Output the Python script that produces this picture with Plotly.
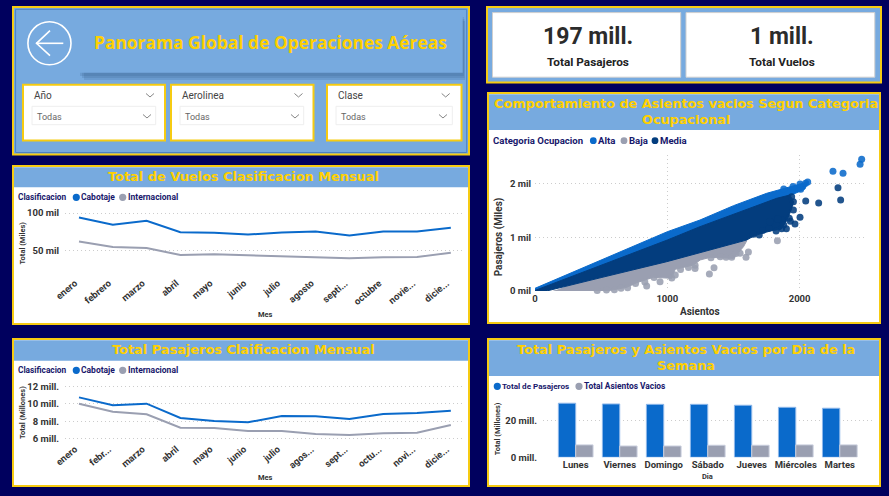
import plotly.graph_objects as go

W, H = 889, 496

# ---------- data ----------
months = ["enero","febrero","marzo","abril","mayo","junio","julio","agosto","septiembre","octubre","noviembre","diciembre"]
labels_vuelos = ["enero","febrero","marzo","abril","mayo","junio","julio","agosto","septi...","octubre","novie...","dicie..."]
labels_pasaj = ["enero","febr...","marzo","abril","mayo","junio","julio","agos...","sept...","octu...","novi...","dicie..."]
vuelos_cab = [94.2,84.5,89.8,74.8,73.9,71.7,74.3,75.7,70.4,75.7,75.7,80.6]
vuelos_int = [62.4,55.3,54.0,44.7,45.6,44.2,42.9,42.0,40.3,41.6,42.0,47.8]
pasaj_cab = [10.75,9.84,10.03,8.39,8.05,7.90,8.62,8.58,8.28,8.85,8.96,9.23]
pasaj_int = [10.03,9.11,8.81,7.29,7.25,6.91,6.91,6.57,6.46,6.65,6.72,7.59]
dias = ["Lunes","Viernes","Domingo","Sábado","Jueves","Miércoles","Martes"]
total_pasajeros = [29.2,28.8,28.6,28.6,28.1,27.0,26.5]
asientos_vacios = [6.7,6.1,6.1,6.5,6.5,6.7,6.7]

# dense clouds of the scatter, read as outlines (asientos, pasajeros)
alta_x = [0,500,1000,1247,1500,1751,1900,2066,2040,1930,1627,1247,500,0]
alta_y = [50,580,1105,1323,1590,1821,1930,2037,1900,1780,1540,1180,470,0]
media_x = [0,500,1000,1247,1625,1827,1927,1955,1935,1900,1860,1800,1720,1650,1600,1285,995,500,88,0]
media_y = [10,479,950,1199,1547,1728,1789,1660,1500,1300,1150,1130,1080,1020,950,733,546,250,0,0]
baja_x = [139,542,694,769,895,1034,1059,1198,1248,1324,1501,1576,1601,1300,800,300]
baja_y = [0,0,68,155,255,236,404,484,578,627,609,826,938,800,500,150]
# single visible flights of the scatter
alta_px = [2469,2457,2252,2328,2061,2045,2008,2003,1950,1880]
alta_py = [2454,2361,2231,2193,2032,2010,1896,1994,1950,1900]
media_px = [2046,2144,2310,2290,2003,1965,1864,1822,1769,1695,1922,1953,1953,1940,1864,1776,1900,1930,1720,1650,1835,1880]
media_py = [1677,1640,1696,1926,1373,1249,1161,1118,1174,1044,1355,1510,1665,1758,1323,1292,1160,1300,1130,1060,1340,1230]
baja_px = [1832,1595,1613,1318,1353,844,1550,1444,1487,945,1034,1060,1210,1330,1210,700,760,540,470,600,650,830,900,1100,1160,1400,1520]
baja_py = [938,628,727,317,434,93,703,628,628,173,240,300,480,620,420,60,140,20,10,25,50,170,250,400,440,640,700]

ALTA, BAJA, MEDIA = "#0a6acb", "#9a9fb1", "#033d7e"
YEL, TITLE, PANEL, BG = "#f6cb12", "#ffd000", "#77aadf", "#00005e"
NAVY = "#17176b"

def px(x): return x / W
def py(y): return 1 - y / H

shapes, anns = [], []

def rect(x0, y0, x1, y1, fill=None, line=None, lw=0, op=1):
    shapes.append(dict(type="rect", xref="paper", yref="paper", x0=px(x0), x1=px(x1), y0=py(y0), y1=py(y1),
                       fillcolor=fill or "rgba(0,0,0,0)", line=dict(color=line or "rgba(0,0,0,0)", width=lw),
                       opacity=op, layer="below"))

def seg(pts, color, lw):
    path = "M " + " L ".join(f"{px(a):.5f},{py(b):.5f}" for a, b in pts)
    shapes.append(dict(type="path", xref="paper", yref="paper", path=path, line=dict(color=color, width=lw), layer="below"))

def dot(x, y, r, color):
    shapes.append(dict(type="circle", xref="paper", yref="paper", x0=px(x-r), x1=px(x+r), y0=py(y+r), y1=py(y-r),
                       fillcolor=color, line=dict(width=0), layer="below"))

def text(x, y, s, size, color="#222222", fam="Roboto", xa="center", angle=0, bold=False):
    if xa == "left":
        x -= 2
    anns.append(dict(xref="paper", yref="paper", x=px(x), y=py(y), text=f"<b>{s}</b>" if bold else s,
                     showarrow=False, xanchor=xa, yanchor="middle", textangle=angle,
                     font=dict(size=size, color=color, family=fam)))

# ---------- panels ----------
def panel(x0, y0, x1, y1, fill="#ffffff"):
    rect(x0, y0, x1, y1, fill=fill, line=YEL, lw=2)

# top-left panel
panel(13, 7, 469, 154.5, PANEL)
rect(15.6, 9.3, 466.7, 152.5, line="#4d80c4", lw=1)
for k, o in enumerate([7, 5, 3]):
    rect(77+o, 14+o, 463+o*0.3, 73+o, fill="#2c4f7e", op=0.16)
rect(77, 12, 462.7, 72.7, fill=PANEL)
text(270, 41.7, "Panorama Global de Operaciones Aéreas", 17.4, TITLE, "Open Sans", bold=True)
shapes.append(dict(type="circle", xref="paper", yref="paper", x0=px(27.9), x1=px(71), y0=py(64.8), y1=py(21.8),
                   line=dict(color="#ffffff", width=1.6), layer="below"))
seg([(63.3, 43.3), (36, 43.3)], "#ffffff", 1.6)
seg([(50, 30.7), (36.5, 43.3), (50, 55.7)], "#ffffff", 1.6)

def slicer(x0, x1, name, tx, bx0, bx1, c1, c2):
    panel(x0, 84.8, x1, 140.6)
    text(tx, 95.7, name, 10, "#444444", xa="left")
    seg([(c1-4, 93.5), (c1, 97), (c1+4, 93.5)], "#777777", 0.9)
    rect(bx0, 106.3, bx1, 124.7, line="#eeeeee", lw=1)
    text(bx0+4.5, 116.7, "Todas", 9, "#666666", xa="left")
    seg([(c2-4, 114.5), (c2, 118), (c2+4, 114.5)], "#777777", 0.9)

slicer(23, 165, "Año", 34, 32, 155.7, 150, 147)
slicer(171, 313.5, "Aerolinea", 182, 180, 303.7, 298.5, 295)
slicer(327, 461.5, "Clase", 338, 336, 452.3, 445.7, 443)

# KPI panel
panel(487, 7, 881, 82.5, PANEL)
for a, b, big, small, c in [(492.5, 680.7, "197 mill.", "Total Pasajeros", 587.7), (686, 874.8, "1 mill.", "Total Vuelos", 781.7)]:
    rect(a, 12.6, b, 77.2, fill="#ffffff", line="#cfcfcf", lw=1)
    text(c, 36, big, 23, "#2b2b2b", bold=True)
    text(c, 62, small, 11.8, "#222222", bold=True)

# chart panels
panel(13, 166, 469, 324, "#ffffff")
rect(14, 167.2, 468, 187.3, fill=PANEL)
text(243, 176.5, "Total de Vuelos Clasificacion Mensual", 12.9, TITLE, "DejaVu Sans", bold=True)
panel(13, 339, 469, 486, "#ffffff")
rect(14, 340.2, 468, 360.7, fill=PANEL)
text(243, 349.8, "Total Pasajeros Claificacion Mensual", 12.9, TITLE, "DejaVu Sans", bold=True)
panel(488, 93, 880, 323, "#ffffff")
rect(489, 94.2, 879, 130, fill=PANEL)
text(685.7, 103.5, "Comportamiento de Asientos vacios Segun Categoria", 12.8, TITLE, "DejaVu Sans", bold=True)
text(685.7, 119.5, "Ocupacional", 12.8, TITLE, "DejaVu Sans", bold=True)
panel(488, 339, 880, 486, "#ffffff")
rect(489, 340.2, 879, 376, fill=PANEL)
text(686, 349.8, "Total Pasajeros y Asientos Vacios por Dia de la", 12.9, TITLE, "DejaVu Sans", bold=True)
text(686, 365.5, "Semana", 12.9, TITLE, "DejaVu Sans", bold=True)

# legends
for y in (197.3, 370.3):
    text(18, y, "Clasificacion", 8.3, NAVY, xa="left", bold=True)
    dot(76.3, y, 3.6, ALTA); text(81, y, "Cabotaje", 8.5, NAVY, xa="left", bold=True)
    dot(122.7, y, 3.6, BAJA); text(127.7, y, "Internacional", 8.5, NAVY, xa="left", bold=True)
text(493.3, 140.7, "Categoria Ocupacion", 9.6, NAVY, xa="left", bold=True)
dot(593.3, 140.7, 3.4, ALTA); text(598.3, 140.7, "Alta", 9.6, NAVY, xa="left", bold=True)
dot(624, 140.7, 3.4, BAJA); text(629, 140.7, "Baja", 9.6, NAVY, xa="left", bold=True)
dot(655, 140.7, 3.4, MEDIA); text(660, 140.7, "Media", 9.6, NAVY, xa="left", bold=True)
dot(497.3, 386.3, 3.6, ALTA); text(502.3, 386.3, "Total de Pasajeros", 8.1, NAVY, xa="left", bold=True)
dot(579, 386.3, 3.6, BAJA); text(584.3, 386.3, "Total Asientos Vacios", 8.4, NAVY, xa="left", bold=True)

# axis titles
AX = "#333333"
text(265, 314.3, "Mes", 7.5, AX, bold=True)
text(22.7, 242.7, "Total (Miles)", 7.5, AX, angle=-90, bold=True)
text(265, 477.3, "Mes", 7.5, AX, bold=True)
text(22.7, 412.3, "Total (Millones)", 7.5, AX, angle=-90, bold=True)
text(700, 311.7, "Asientos", 10, AX, bold=True)
text(499, 237.3, "Pasajeros (Miles)", 10, AX, angle=-90, bold=True)
text(707.7, 476.7, "Dia", 7.5, AX, bold=True)
text(497.3, 429, "Total (Millones)", 7.5, AX, angle=-90, bold=True)

# ---------- figure ----------
fig = go.Figure()
TICK = dict(family="Roboto", size=9.5, color="#333333", weight="bold")
GRID = dict(showgrid=True, gridcolor="#cccccc", griddash="1px 3px", gridwidth=1, zeroline=False, showline=False, ticks="", automargin=False)

def line(x, y, color, ax):
    fig.add_trace(go.Scatter(x=x, y=y, mode="lines", line=dict(color=color, width=2), showlegend=False,
                             xaxis=f"x{ax}", yaxis=f"y{ax}", cliponaxis=False))

line(months, vuelos_cab, ALTA, 1); line(months, vuelos_int, BAJA, 1)
line(months, pasaj_cab, ALTA, 2); line(months, pasaj_int, BAJA, 2)

def cloud(x, y, color):
    fig.add_trace(go.Scatter(x=x, y=y, mode="lines", fill="toself", fillcolor=color, line=dict(color=color, width=1),
                             showlegend=False, xaxis="x3", yaxis="y3", cliponaxis=False))

def spots(x, y, color, op=0.88):
    fig.add_trace(go.Scatter(x=x, y=y, mode="markers", marker=dict(color=color, size=7, opacity=op, line=dict(width=0)),
                             showlegend=False, xaxis="x3", yaxis="y3", cliponaxis=False))

cloud(alta_x, alta_y, ALTA); spots(alta_px, alta_py, "#0a6acb")
cloud(baja_x, baja_y, BAJA); spots(baja_px, baja_py, BAJA)
cloud(media_x, media_y, MEDIA); spots(media_px, media_py, MEDIA)

barline = dict(color="#8fb8ea", width=1)
fig.add_trace(go.Bar(x=dias, y=total_pasajeros, marker=dict(color=ALTA, line=barline), showlegend=False, xaxis="x4", yaxis="y4"))
fig.add_trace(go.Bar(x=dias, y=asientos_vacios, marker=dict(color=BAJA, line=dict(color="#c9cedd", width=1)), showlegend=False, xaxis="x4", yaxis="y4"))

def dom_x(a, b): return [a / W, b / W]
def dom_y(top, bot): return [1 - bot / H, 1 - top / H]

fig.update_layout(
    width=W, height=H, autosize=False, margin=dict(l=0, r=0, t=0, b=0, pad=0),
    paper_bgcolor=BG, plot_bgcolor="rgba(0,0,0,0)", shapes=shapes, annotations=anns,
    barmode="group", bargap=0.212, bargroupgap=0,
    xaxis=dict(domain=dom_x(65, 463), type="category", range=[-0.414, 11.36], tickmode="array", tickvals=months,
               ticktext=labels_vuelos, tickangle=-40, tickfont=TICK, showgrid=False, zeroline=False, ticks="", anchor="y",
               automargin=False, ticklabelshift=-4),
    yaxis=dict(domain=dom_y(207, 275), range=[18.4, 107.9], tickmode="array", tickvals=[50, 100],
               ticktext=["50 mil", "100 mil"], tickfont=TICK, anchor="x", ticklabelstandoff=5, **GRID),
    xaxis2=dict(domain=dom_x(65, 463), type="category", range=[-0.414, 11.36], tickmode="array", tickvals=months,
                ticktext=labels_pasaj, tickangle=-40, tickfont=TICK, showgrid=False, zeroline=False, ticks="", anchor="y2",
                automargin=False, ticklabelshift=-4),
    yaxis2=dict(domain=dom_y(380, 441), range=[5.77, 12.73], tickmode="array", tickvals=[6, 8, 10, 12],
                ticktext=["6 mill.", "8 mill.", "10 mill.", "12 mill."], tickfont=TICK, anchor="x2", ticklabelstandoff=5, **GRID),
    xaxis3=dict(domain=dom_x(535, 866.7), range=[0, 2507], tickmode="array", tickvals=[0, 1000, 2000],
                ticktext=["0", "1000", "2000"], tickfont=TICK, anchor="y3", **GRID),
    yaxis3=dict(domain=dom_y(155, 291), range=[0, 2535], tickmode="array", tickvals=[0, 1000, 2000],
                ticktext=["0 mil", "1 mil", "2 mil"], tickfont=TICK, anchor="x3", ticklabelstandoff=3, **GRID),
    xaxis4=dict(domain=dom_x(543, 875), type="category", range=[-0.743, 6.80], tickfont=TICK, showgrid=False,
                zeroline=False, ticks="", anchor="y4", automargin=False),
    yaxis4=dict(domain=dom_y(396, 457.3), range=[0, 33.1], tickmode="array", tickvals=[0, 20],
                ticktext=["0 mill.", "20 mill."], tickfont=TICK, anchor="x4", ticklabelstandoff=5, **GRID),
)

fig.write_html("out.html", config={"displayModeBar": False},
               post_script="document.body.style.margin='0';document.body.style.overflow='hidden';")
